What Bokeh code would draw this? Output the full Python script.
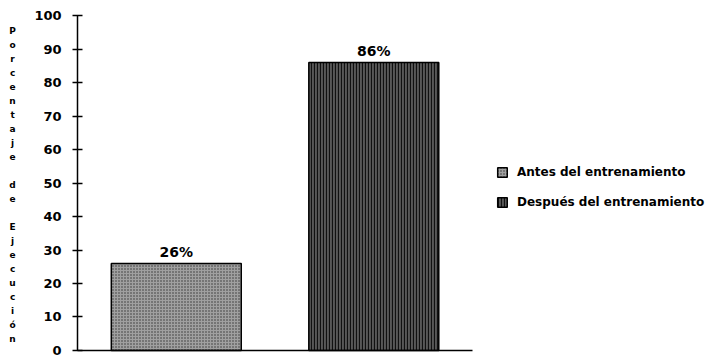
from bokeh.plotting import figure
from bokeh.models import (ColumnDataSource, FixedTicker, Legend, LegendItem, Label, LinearAxis)
from bokeh.embed import file_html
from bokeh.resources import INLINE
from bokeh.core.properties import value

categories = ["Antes del entrenamiento", "Después del entrenamiento"]
values = [26, 86]
labels = ["26%", "86%"]
y_ticks = [0, 10, 20, 30, 40, 50, 60, 70, 80, 90, 100]
y_title = "Porcentaje de Ejecución"

FONT = "DejaVu Sans"
xs = [i + 0.5 for i in range(len(categories))]

W, H = 716, 357
p = figure(width=W, height=H, x_range=(-0.39, 3.235), y_range=(-2.09, 104.48),
           output_backend="svg", toolbar_location=None,
           min_border_left=0, min_border_right=0, min_border_top=0, min_border_bottom=0,
           x_axis_type=None, y_axis_type=None)
p.outline_line_color = None
p.grid.visible = False
p.background_fill_color = "white"

src1 = ColumnDataSource(dict(x=[xs[0]], top=[values[0]], lab=[labels[0]]))
src2 = ColumnDataSource(dict(x=[xs[1]], top=[values[1]], lab=[labels[1]]))

r1 = p.vbar(x="x", top="top", width=0.658, source=src1,
            fill_color="#a0a0a0", line_color="black", line_width=1.5,
            hatch_pattern="dot", hatch_color="#333333", hatch_scale=3, hatch_weight=1.2)
r2 = p.vbar(x="x", top="top", width=0.658, source=src2,
            fill_color="#585858", line_color="black", line_width=1.5,
            hatch_pattern="vertical_line", hatch_color="#111111", hatch_scale=3, hatch_weight=1.2)

for s in (src1, src2):
    p.text(x="x", y="top", text="lab", source=s, text_align="center",
           text_baseline="bottom", y_offset=-3, text_font=value(FONT),
           text_font_style="bold", text_font_size="14px", text_color="black")

yaxis = LinearAxis(fixed_location=0, bounds=(0, 100), ticker=FixedTicker(ticks=y_ticks),
                   axis_line_width=1.5, major_tick_in=5, major_tick_out=5,
                   major_tick_line_width=1.5, minor_tick_line_color=None,
                   major_label_text_font=FONT, major_label_text_font_style="bold",
                   major_label_text_font_size="13px", major_label_text_color="black",
                   major_label_standoff=11)
p.add_layout(yaxis, "left")

xaxis = LinearAxis(fixed_location=0, bounds=(0, len(categories)), ticker=FixedTicker(ticks=[]),
                   axis_line_width=1.5, major_tick_line_color=None, minor_tick_line_color=None)
p.add_layout(xaxis, "below")

title = Label(x=-0.329, y=97.0, text="\n".join(list(y_title)), text_font=FONT,
              text_font_style="bold", text_font_size="9px", text_align="center",
              text_baseline="top", text_line_height=1.40, text_color="black")
p.add_layout(title)

legend = Legend(items=[LegendItem(label=categories[0], renderers=[r1]),
                       LegendItem(label=categories[1], renderers=[r2])],
                location=(496, 148), border_line_color=None, background_fill_alpha=0,
                padding=0, margin=0,
                label_text_font=FONT, label_text_font_style="bold",
                label_text_color="black",
                label_text_font_size="12px", glyph_width=12, glyph_height=12,
                label_height=12, spacing=16, label_standoff=9)
p.add_layout(legend)

open("out.html", "w").write(file_html(p, INLINE))
